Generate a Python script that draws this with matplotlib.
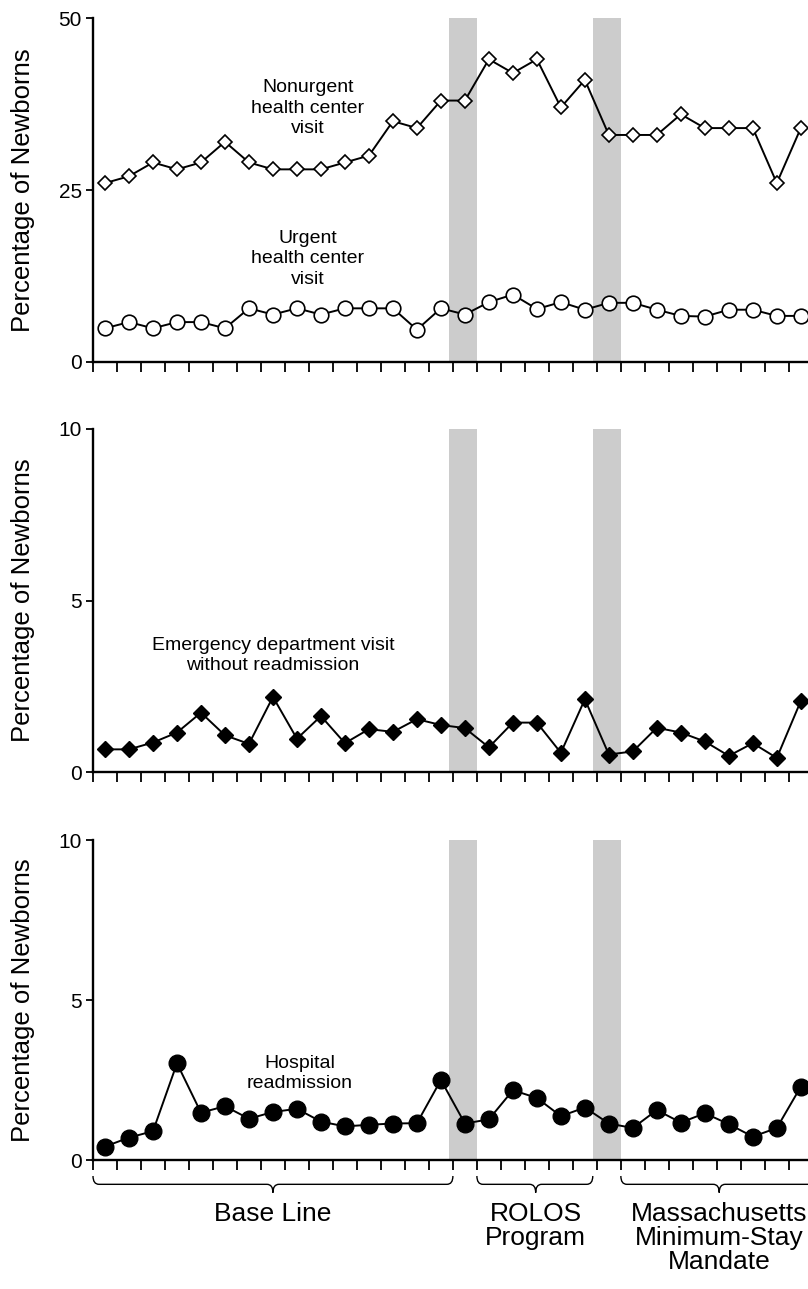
import numpy as np
import matplotlib
matplotlib.use("Agg")
import matplotlib.pyplot as plt
from matplotlib.path import Path
from matplotlib.patches import PathPatch
import matplotlib.transforms as mtransforms

plt.rcParams['font.family'] = ['Liberation Sans', 'DejaVu Sans']

# monthly series, 30 months
months = np.arange(1, 31)
nonurgent = [26, 27, 29, 28, 29, 32, 29, 28, 28, 28, 29, 30, 35, 34, 38,
             38, 44, 42, 44, 37, 41, 33, 33, 33, 36, 34, 34, 34, 26, 34]
urgent = [4.9, 5.8, 4.9, 5.8, 5.8, 4.9, 7.8, 6.9, 7.8, 6.9, 7.8, 7.8, 7.8, 4.7, 7.8,
          6.9, 8.7, 9.8, 7.7, 8.7, 7.6, 8.6, 8.6, 7.6, 6.7, 6.6, 7.6, 7.6, 6.7, 6.7]
ed_visit = [0.66, 0.66, 0.86, 1.15, 1.73, 1.07, 0.82, 2.19, 0.97, 1.63, 0.84, 1.25, 1.17, 1.54, 1.37,
            1.28, 0.72, 1.44, 1.44, 0.56, 2.12, 0.51, 0.60, 1.29, 1.15, 0.89, 0.47, 0.84, 0.41, 2.07]
readmit = [0.42, 0.70, 0.90, 3.02, 1.48, 1.68, 1.29, 1.50, 1.60, 1.20, 1.05, 1.10, 1.14, 1.15, 2.50,
           1.14, 1.27, 2.18, 1.94, 1.37, 1.64, 1.14, 1.00, 1.56, 1.17, 1.46, 1.12, 0.73, 1.00, 2.29]

# washout periods (shaded) and study periods (braces)
washout = [(14.83, 16), (20.83, 22)]
periods = ["Base Line", "ROLOS\nProgram", "Massachusetts\nMinimum-Stay\nMandate"]
period_span = [(0, 15), (16, 20.83), (22, 30.2)]
period_mid = [7.5, 18.45, 26.1]

x = months - 0.5
W, H = 808, 1289
fig = plt.figure(figsize=(W / 100, H / 100), dpi=100)

def add_panel(top, bottom):
    return fig.add_axes([93 / W, 1 - bottom / H, (W - 93) / W, (bottom - top) / H])

ax1 = add_panel(18, 362)
ax2 = add_panel(429, 772)
ax3 = add_panel(840, 1160)

for ax, ymax in [(ax1, 50), (ax2, 10), (ax3, 10)]:
    ax.set_xlim(0, 29.8)
    ax.set_ylim(0, ymax)
    ax.set_yticks([0, ymax / 2, ymax])
    ax.set_yticklabels(["0", f"{ymax // 2:g}", f"{ymax:g}"])
    ax.set_xticks(np.arange(0, 30))
    ax.set_xticklabels([])
    for s in ['top', 'right']:
        ax.spines[s].set_visible(False)
    for s in ['left', 'bottom']:
        ax.spines[s].set_linewidth(1.7)
    ax.tick_params(axis='y', direction='out', length=5, width=1.3, labelsize=15, pad=3)
    ax.tick_params(axis='x', direction='out', length=7, width=1.3)
    for a, b in washout:
        ax.axvspan(a, b, color='#cccccc', lw=0, zorder=0)
    pos = ax.get_position()
    fig.text(23 / W, pos.y0 + pos.height / 2, "Percentage of Newborns",
             rotation=90, ha='center', va='center', fontsize=18.5)

line_kw = dict(color='black', lw=1.4, clip_on=False, zorder=3)
ax1.plot(x, nonurgent, marker='D', ms=7.2, mfc='white', mec='black', mew=1.2, **line_kw)
ax1.plot(x, urgent, marker='o', ms=10.5, mfc='white', mec='black', mew=1.2, **line_kw)
ax2.plot(x, ed_visit, marker='D', ms=7.8, mfc='black', mec='black', **line_kw)
ax3.plot(x, readmit, marker='o', ms=12, mfc='black', mec='black', **line_kw)

txt_kw = dict(ha='center', va='center', fontsize=14, linespacing=1.25)
ax1.text(8.95, 36.9, "Nonurgent\nhealth center\nvisit", **txt_kw)
ax1.text(8.95, 15, "Urgent\nhealth center\nvisit", **txt_kw)
ax2.text(7.5, 3.4, "Emergency department visit\nwithout readmission", **txt_kw)
ax3.text(8.6, 2.7, "Hospital\nreadmission", **txt_kw)

# curly braces under the bottom panel
trans = mtransforms.blended_transform_factory(ax3.transData, ax3.transAxes)
yb, hb, d = -0.076, 0.026, 0.25
for (a, b), mid, label in zip(period_span, period_mid, periods):
    verts = [(a, yb + hb), (a, yb), (a + d, yb),
             (mid - d, yb), (mid, yb), (mid, yb - hb),
             (mid, yb), (mid + d, yb),
             (b - d, yb), (b, yb), (b, yb + hb)]
    codes = [Path.MOVETO, Path.CURVE3, Path.CURVE3,
             Path.LINETO, Path.CURVE3, Path.CURVE3,
             Path.CURVE3, Path.CURVE3,
             Path.LINETO, Path.CURVE3, Path.CURVE3]
    ax3.add_patch(PathPatch(Path(verts, codes), transform=trans, fill=False,
                            lw=1.0, color='black', clip_on=False))
    ax3.text(mid, -0.13, label, transform=trans, ha='center', va='top',
             fontsize=19, linespacing=1.0)

fig.savefig("out.png", dpi=100)
